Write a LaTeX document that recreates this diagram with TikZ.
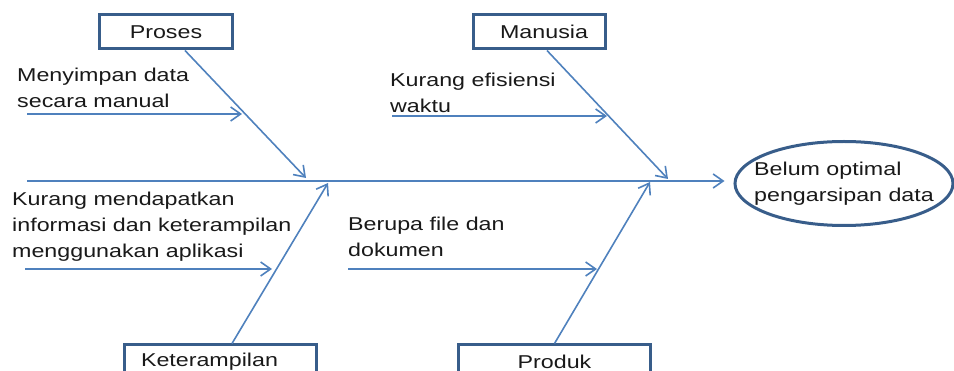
\documentclass[tikz,border=0pt]{standalone}
\usepackage{fontspec}
\setmainfont{Liberation Sans}[FakeStretch=1.25]
\usetikzlibrary{shapes.geometric,arrows.meta,positioning,calc}
\definecolor{bone}{HTML}{4F81BD}
\definecolor{frame}{HTML}{385D8A}
\tikzset{
  bonearrow/.style={draw=bone, line width=1.6pt, -{Straight Barb[length=10pt,width=14pt]}},
  category/.style={draw=frame, line width=3pt, minimum height=34pt, inner sep=0pt, text=black!90},
  cause/.style={align=left, anchor=west, inner sep=0pt, text=black!90},
}
\begin{document}
\begin{tikzpicture}[x=1pt,y=-1pt,font=\fontsize{18.6}{26}\selectfont]
  \clip (0,0) rectangle (954,371);
  \node[ellipse, draw=frame, line width=3pt, minimum width=218pt, minimum height=84pt, align=left, inner xsep=-30pt, inner ysep=0pt, text=black!90] (effect) at (844,183.5) {Belum optimal\\pengarsipan data};
  \coordinate (tail) at (27,181);

  \node[category, minimum width=133pt] (proses) at (166,32) {Proses};
  \node[category, text width=98pt, align=right, inner xsep=17pt] (manusia) at (539,32) {Manusia};
  \node[category, anchor=north, text width=158pt, align=left, inner xsep=17pt] (keterampilan) at (220,343.5) {Keterampilan};
  \node[category, anchor=north, minimum width=192pt] (produk) at (554.5,343.5) {Produk};

  \coordinate (p) at (306,178);
  \coordinate (m) at (668,179);
  \coordinate (k) at (328,183);
  \coordinate (d) at (650,182);

  \node[cause] (menyimpan) at (17,88) {Menyimpan data\\secara manual};
  \node[cause] (efisiensi) at (390,93) {Kurang efisiensi\\waktu};
  \node[cause] (informasi) at (12,227) {Kurang mendapatkan\\informasi dan keterampilan\\menggunakan aplikasi};
  \node[cause] (berupa) at (348,237) {Berupa file dan\\dokumen};

  \coordinate (s1) at (27,114);   \coordinate (h1) at (242,114);
  \coordinate (s2) at (392,116);  \coordinate (h2) at (607,116);
  \coordinate (s3) at (25,269);   \coordinate (h3) at (272,269);
  \coordinate (s4) at (348,269);  \coordinate (h4) at (597,269);

  % spine and bones
  \draw[bonearrow] (tail) -- ($(tail -| effect.west)+(-9,0)$);
  \draw[bonearrow] ([xshift=19pt]proses.south) -- (p);
  \draw[bonearrow] ([xshift=8pt]manusia.south) -- (m);
  \draw[bonearrow] ([xshift=12pt]keterampilan.north) -- (k);
  \draw[bonearrow] (produk.north) -- (d);

  \draw[bonearrow] (s1) -- (h1);
  \draw[bonearrow] (s2) -- (h2);
  \draw[bonearrow] (s3) -- (h3);
  \draw[bonearrow] (s4) -- (h4);
\end{tikzpicture}
\end{document}
